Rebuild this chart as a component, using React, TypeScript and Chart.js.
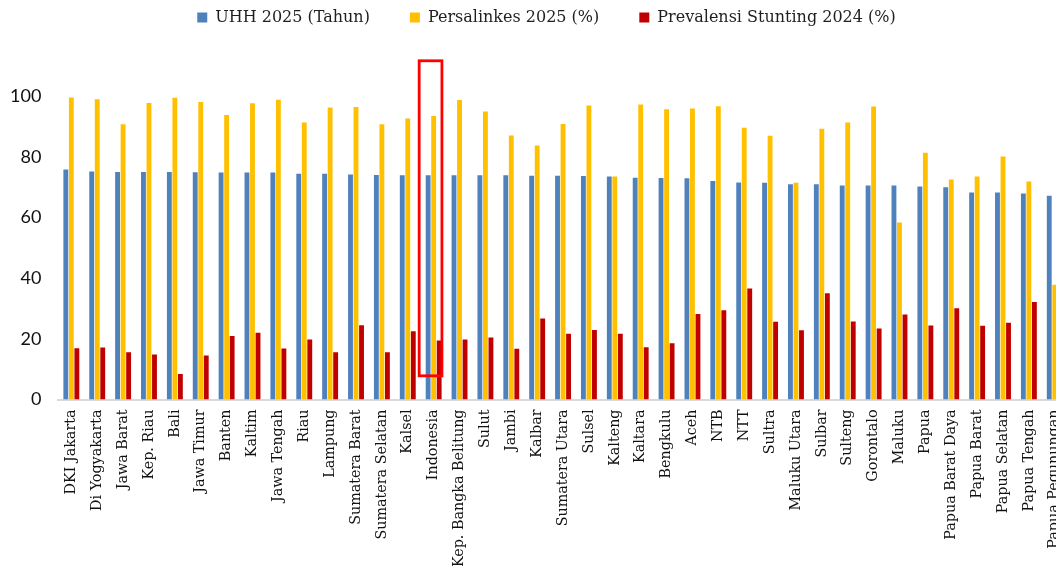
import React, { useEffect, useRef } from 'react';
import { Chart, registerables } from 'chart.js';

Chart.register(...registerables);

const categories = [
  'DKI Jakarta', 'Di Yogyakarta', 'Jawa Barat', 'Kep. Riau', 'Bali', 'Jawa Timur', 'Banten',
  'Kaltim', 'Jawa Tengah', 'Riau', 'Lampung', 'Sumatera Barat', 'Sumatera Selatan', 'Kalsel',
  'Indonesia', 'Kep. Bangka Belitung', 'Sulut', 'Jambi', 'Kalbar', 'Sumatera Utara', 'Sulsel',
  'Kalteng', 'Kaltara', 'Bengkulu', 'Aceh', 'NTB', 'NTT', 'Sultra', 'Maluku Utara', 'Sulbar',
  'Sulteng', 'Gorontalo', 'Maluku', 'Papua', 'Papua Barat Daya', 'Papua Barat', 'Papua Selatan',
  'Papua Tengah', 'Papua Pegunungan',
];

const uhh2025 = [
  75.8, 75.1, 75.0, 75.0, 75.0, 74.9, 74.8, 74.8, 74.8, 74.4, 74.4, 74.1, 74.0, 73.9,
  73.9, 73.9, 73.9, 73.9, 73.7, 73.7, 73.6, 73.5, 73.1, 73.0, 72.9, 72.0, 71.5, 71.4,
  70.9, 70.9, 70.5, 70.5, 70.5, 70.2, 69.9, 68.2, 68.2, 67.9, 67.1,
];

const persalinkes2025 = [
  99.5, 98.9, 90.7, 97.7, 99.4, 98.0, 93.7, 97.6, 98.8, 91.3, 96.2, 96.4, 90.7, 92.6,
  93.4, 98.7, 94.9, 87.0, 83.7, 90.8, 96.9, 73.5, 97.2, 95.6, 95.9, 96.6, 89.5, 86.9,
  71.4, 89.2, 91.3, 96.5, 58.3, 81.3, 72.5, 73.5, 80.1, 71.8, 37.8,
];

const stunting2024 = [
  16.9, 17.1, 15.6, 14.8, 8.4, 14.5, 20.9, 22.0, 16.8, 19.8, 15.6, 24.5, 15.6, 22.5,
  19.4, 19.8, 20.4, 16.7, 26.7, 21.7, 22.9, 21.7, 17.2, 18.5, 28.2, 29.4, 36.6, 25.6,
  22.8, 35.0, 25.7, 23.4, 28.0, 24.4, 30.1, 24.3, 25.3, 32.1, 36.0,
];

const seriesLabels = ['UHH 2025 (Tahun)', 'Persalinkes 2025 (%)', 'Prevalensi Stunting 2024 (%)'];
const yMin = 0;
const yMax = 100;
const yStep = 20;

// highlighted category (red outline annotation)
const highlightCategory = 'Indonesia';
const highlightTopValue = 111.6;
const highlightBottomValue = 7.8;

const highlightPlugin = {
  id: 'highlightBox',
  afterDatasetsDraw(chart: any) {
    const xs = chart.scales.x;
    const ys = chart.scales.y;
    const i = categories.indexOf(highlightCategory);
    if (i < 0) return;
    const step = xs.getPixelForValue(1) - xs.getPixelForValue(0);
    const cx = xs.getPixelForValue(i);
    const left = cx - 0.56 * step;
    const right = cx + 0.32 * step;
    const top = ys.getPixelForValue(highlightTopValue);
    const bottom = ys.getPixelForValue(highlightBottomValue);
    const ctx = chart.ctx;
    ctx.save();
    ctx.strokeStyle = '#FF0000';
    ctx.lineWidth = 2.8;
    ctx.strokeRect(left, top, right - left, bottom - top);
    ctx.restore();
  },
};

const legendHeightPlugin = {
  id: 'legendHeight',
  beforeInit(chart: any) {
    const legend = chart.legend;
    if (!legend) return;
    const orig = legend.fit;
    legend.fit = function () {
      orig.call(this);
      this.height = 126.5;
    };
  },
};

export default function App() {
  const ref = useRef<HTMLCanvasElement | null>(null);

  useEffect(() => {
    if (!ref.current) return;
    const common = { categoryPercentage: 0.64, barPercentage: 0.88, borderWidth: 0 };
    const chart = new Chart(ref.current, {
      type: 'bar',
      data: {
        labels: categories,
        datasets: [
          { label: seriesLabels[0], data: uhh2025, backgroundColor: '#4F81BD', ...common },
          { label: seriesLabels[1], data: persalinkes2025, backgroundColor: '#FFC000', ...common },
          { label: seriesLabels[2], data: stunting2024, backgroundColor: '#C00000', ...common },
        ],
      },
      options: {
        responsive: false,
        animation: false,
        layout: { padding: { top: -30.5, left: 0, right: 0, bottom: 0 } },
        plugins: {
          legend: {
            position: 'top',
            labels: {
              boxWidth: 10,
              boxHeight: 10,
              padding: 40,
              color: '#1f1f1f',
              font: { family: 'DejaVu Serif', size: 16 },
            },
          },
          tooltip: { enabled: false },
        },
        scales: {
          x: {
            grid: { display: false, drawTicks: false },
            border: { display: true, color: '#D9D9D9', width: 2 },
            ticks: {
              autoSkip: false,
              maxRotation: 90,
              minRotation: 90,
              padding: 10,
              color: '#111111',
              font: { family: 'DejaVu Serif', size: 14.3 },
            },
            afterFit: (s: any) => {
              s.height = 166.5;
              s.paddingLeft = 0;
              s.paddingRight = 25.3;
            },
          },
          y: {
            min: yMin,
            max: yMax,
            grid: { display: false, drawTicks: false },
            border: { display: false },
            ticks: {
              stepSize: yStep,
              padding: 17,
              color: '#111111',
              font: { family: 'Lato', size: 18 },
            },
            afterFit: (s: any) => {
              s.width = 58.4;
            },
          },
        },
      },
      plugins: [highlightPlugin, legendHeightPlugin],
    });
    return () => chart.destroy();
  }, []);

  return (
    <div
      style={{
        position: 'fixed',
        left: 0,
        top: 0,
        width: 1056,
        height: 566,
        overflow: 'hidden',
        background: '#ffffff',
      }}
    >
      <canvas ref={ref} width={1093} height={566} style={{ display: 'block' }} />
    </div>
  );
}
